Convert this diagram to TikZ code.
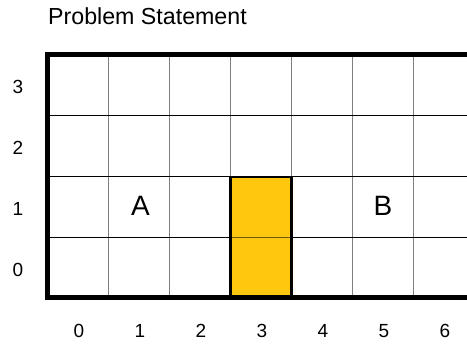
\documentclass[tikz,border=0pt]{standalone}
\usepackage{fontspec}
\setmainfont{Liberation Sans}
\definecolor{cellyellow}{HTML}{FFC80E}
\definecolor{gridgray}{HTML}{7F7F7F}
\begin{document}
\begin{tikzpicture}[x=1pt,y=-1pt,
  hline/.style={black,line width=1pt},
  vline/.style={gridgray,line width=1.5pt},
  frame/.style={black,line width=5pt,line join=miter},
  axislabel/.style={font=\fontsize{19}{22}\selectfont,inner sep=0pt,anchor=center},
  celllabel/.style={font=\fontsize{28}{32}\selectfont,inner sep=0pt,anchor=center},
  titlestyle/.style={font=\fontsize{23.2}{27}\selectfont,inner sep=0pt,anchor=base west}]
\useasboundingbox (0,0) rectangle (467,345);
% grid
\foreach \x in {108.5,169.5,230.5,291.5,352.5,413.5}
  \draw[vline] (\x,55) -- (\x,298);
\foreach \y in {116,177,238}
  \draw[hline] (47.5,\y) -- (467,\y);
% obstacle
\draw[fill=cellyellow,draw=black,line width=2.5pt] (230.5,177) rectangle (291.5,298);
\draw[black,opacity=0.55,line width=1pt] (231.5,238) -- (290.5,238);
% frame
\draw[frame] (467,55) -- (47.5,55) -- (47.5,298) -- (467,298);
% title
\node[titlestyle] (title) at (48,25) {Problem Statement};
% row labels
\node[axislabel] (r3) at (18,86.5) {3};
\node[axislabel] (r2) at (18,147.5) {2};
\node[axislabel] (r1) at (18,208.5) {1};
\node[axislabel] (r0) at (18,269.5) {0};
% column labels
\foreach \i in {0,...,6}
  \node[axislabel] (c\i) at (79+61*\i,331) {\i};
% cell labels
\node[celllabel] (A) at (140.5,206) {A};
\node[celllabel] (B) at (383,206) {B};
\end{tikzpicture}
\end{document}
